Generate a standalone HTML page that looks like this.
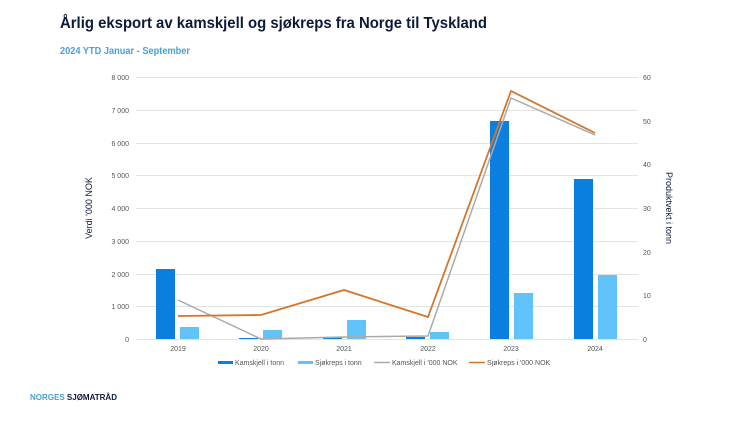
<!DOCTYPE html>
<html><head><meta charset="utf-8"><style>
body{margin:0;width:746px;height:419px;background:#fff;overflow:hidden;font-family:"Liberation Sans",sans-serif}
</style></head><body>
<svg width="746" height="419" xmlns="http://www.w3.org/2000/svg" font-family="Liberation Sans, sans-serif">
<text x="60" y="28" font-size="16" font-weight="bold" fill="#0c1a3a" textLength="427" lengthAdjust="spacingAndGlyphs">Årlig eksport av kamskjell og sjøkreps fra Norge til Tyskland</text>
<text x="60" y="54" font-size="10" font-weight="bold" fill="#4a9fd4" textLength="130" lengthAdjust="spacingAndGlyphs">2024 YTD Januar - September</text>
<g stroke="#e3e3e3" stroke-width="1">
<line x1="136" x2="638" y1="77.5" y2="77.5"/><line x1="136" x2="638" y1="110.5" y2="110.5"/>
<line x1="136" x2="638" y1="143.5" y2="143.5"/><line x1="136" x2="638" y1="175.5" y2="175.5"/>
<line x1="136" x2="638" y1="208.5" y2="208.5"/><line x1="136" x2="638" y1="241.5" y2="241.5"/>
<line x1="136" x2="638" y1="274.5" y2="274.5"/><line x1="136" x2="638" y1="306.5" y2="306.5"/>
<line x1="136" x2="638" y1="339.5" y2="339.5"/>
</g>
<g font-size="7" fill="#555" text-anchor="end">
<text x="129" y="80">8 000</text><text x="129" y="113">7 000</text><text x="129" y="146">6 000</text>
<text x="129" y="178">5 000</text><text x="129" y="211">4 000</text><text x="129" y="244">3 000</text>
<text x="129" y="277">2 000</text><text x="129" y="309">1 000</text><text x="129" y="342">0</text>
</g>
<g font-size="7" fill="#555">
<text x="643" y="80">60</text><text x="643" y="124">50</text><text x="643" y="167">40</text>
<text x="643" y="211">30</text><text x="643" y="255">20</text><text x="643" y="298">10</text><text x="643" y="342">0</text>
</g>
<text transform="translate(92,208) rotate(-90)" font-size="9" fill="#0c1a3a" text-anchor="middle">Verdi '000 NOK</text>
<text transform="translate(666,208) rotate(90)" font-size="9" fill="#0c1a3a" text-anchor="middle">Produktvekt i tonn</text>
<g fill="#0a7fe0">
<rect x="156" y="269" width="19" height="70"/><rect x="239" y="338" width="19" height="1"/>
<rect x="323" y="337" width="19" height="2"/><rect x="406" y="337" width="19" height="2"/>
<rect x="490" y="121" width="19" height="218"/><rect x="574" y="179" width="19" height="160"/>
</g>
<g fill="#62c3fa">
<rect x="180" y="327" width="19" height="12"/><rect x="263" y="330" width="19" height="9"/>
<rect x="347" y="320" width="19" height="19"/><rect x="430" y="332" width="19" height="7"/>
<rect x="514" y="293" width="19" height="46"/><rect x="598" y="275" width="19" height="64"/>
</g>
<polyline points="178,300 261,339 344,337 428,336 511,98 595,135" fill="none" stroke="#aaa" stroke-width="1.5"/>
<polyline points="178,316 261,315 344,290 428,317 511,91 595,133" fill="none" stroke="#d4762a" stroke-width="1.8"/>
<g font-size="7" fill="#555" text-anchor="middle">
<text x="178" y="351">2019</text><text x="261" y="351">2020</text><text x="344" y="351">2021</text>
<text x="428" y="351">2022</text><text x="511" y="351">2023</text><text x="595" y="351">2024</text>
</g>
<g font-size="7" fill="#555">
<rect x="218" y="361" width="15" height="3" fill="#0a7fe0"/><text x="235" y="365">Kamskjell i tonn</text>
<rect x="298" y="361" width="15" height="3" fill="#62c3fa"/><text x="315" y="365">Sjøkreps i tonn</text>
<line x1="374" x2="390" y1="362.5" y2="362.5" stroke="#aaa" stroke-width="1.5"/><text x="392" y="365">Kamskjell i '000 NOK</text>
<line x1="469" x2="485" y1="362.5" y2="362.5" stroke="#d4762a" stroke-width="1.5"/><text x="487" y="365">Sjøkreps i '000 NOK</text>
</g>
<text x="30" y="400" font-size="8" font-weight="bold" fill="#4a9fd4">NORGES <tspan fill="#0c1a3a">SJØMATRÅD</tspan></text>
</svg>
</body></html>
